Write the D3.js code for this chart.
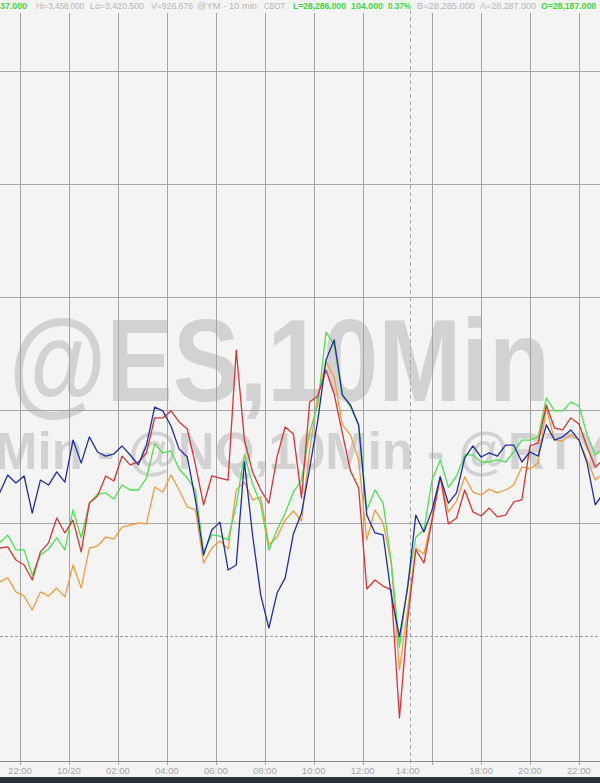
<!DOCTYPE html>
<html>
<head>
<meta charset="utf-8">
<script src="https://cdn.jsdelivr.net/npm/d3@7"></script>
<style>
  html, body { margin: 0; padding: 0; background: #f4f4f4; overflow: hidden; }
  text { font-family: "Liberation Sans", Arial, sans-serif; }
</style>
</head>
<body>
<div id="chart"></div>
<script>
var width = 600, height = 783;

// % change vs prior close, one value every 2nd 10-min bar
var esVals = [0.633,0.712,0.677,0.708,0.544,0.690,0.668,0.726,0.681,0.867,
  0.765,0.881,0.814,0.796,0.805,0.841,0.801,0.757,0.845,1.013,
  0.996,0.929,0.827,0.792,0.602,0.358,0.469,0.504,0.292,0.314,
  0.770,0.447,0.181,0.035,0.190,0.257,0.451,0.544,0.743,0.956,
  1.221,1.310,1.066,1.022,0.934,0.535,0.456,0.447,0.181,-0.004,
  0.212,0.535,0.460,0.558,0.704,0.588,0.633,0.788,0.841,0.792,
  0.810,0.796,0.845,0.845,0.770,0.814,0.796,0.934,0.867,0.881,
  0.912,0.867,0.765,0.580,0.633];

var nqVals = [0.389,0.394,0.336,0.314,0.248,0.372,0.412,0.522,0.456,0.513,
  0.372,0.588,0.619,0.708,0.686,0.796,0.757,0.770,0.810,0.965,
  0.965,0.996,0.947,0.916,0.757,0.580,0.708,0.699,0.690,1.265,
  0.867,0.726,0.646,0.588,0.792,0.925,0.894,0.611,1.035,1.062,
  1.177,1.071,0.898,0.730,0.655,0.208,0.248,0.221,0.204,-0.363,
  0.071,0.381,0.323,0.513,0.704,0.496,0.522,0.646,0.549,0.531,
  0.566,0.527,0.535,0.593,0.602,0.841,0.854,1.022,0.920,0.912,
  0.965,0.938,0.836,0.748,0.779];

var ymVals = [0.412,0.447,0.381,0.381,0.270,0.358,0.385,0.434,0.381,0.558,
  0.434,0.588,0.628,0.633,0.606,0.668,0.646,0.646,0.699,0.850,
  0.810,0.819,0.739,0.699,0.646,0.372,0.447,0.442,0.425,0.580,
  0.801,0.673,0.584,0.381,0.469,0.544,0.637,0.690,0.903,1.022,
  1.345,1.288,1.071,1.013,0.934,0.558,0.646,0.588,0.327,-0.049,
  0.226,0.438,0.469,0.690,0.779,0.659,0.708,0.801,0.801,0.770,
  0.770,0.779,0.770,0.814,0.867,0.867,0.881,1.053,0.996,0.996,
  1.035,1.018,0.889,0.801,0.832];

var rtyVals = [0.239,0.257,0.195,0.177,0.115,0.195,0.177,0.212,0.173,0.314,
  0.212,0.389,0.398,0.438,0.429,0.482,0.491,0.500,0.496,0.659,
  0.637,0.712,0.646,0.571,0.558,0.323,0.389,0.420,0.385,0.646,
  0.681,0.602,0.615,0.403,0.438,0.513,0.553,0.509,0.823,1.066,
  1.212,1.146,0.934,0.889,0.779,0.425,0.558,0.500,0.323,-0.150,
  0.115,0.389,0.363,0.522,0.704,0.549,0.597,0.704,0.637,0.624,
  0.650,0.633,0.646,0.668,0.748,0.739,0.765,1.009,0.867,0.863,
  0.889,0.867,0.779,0.690,0.721];

// time axis (bar index of each tick)
var tickBars   = [5, 17, 29, 41, 53, 65, 77, 89, 100, 118, 130, 142];
var tickLabels = ["22:00","10/20","02:00","04:00","06:00","08:00","10:00","12:00","14:00","18:00","20:00","22:00"];
var gridBars   = [5, 17, 29, 41, 53, 65, 77, 89, 106, 118, 130, 142];
var sessionBar = 100.5;
var gridVals   = [0.5, 1, 1.5, 2, 2.5];
var prevClose  = 0;

// quote line at the top
var quoteText  = ["37.000","Hi=3,458.000","Lo=3,420.500","V=926,676","@YM - 10 min","CBOT",
                  "L=28,286.000","104.000","0.37%","B=28,285.000","A=28,287.000","O=28,187.000"];
var quoteUp    = [true,false,false,false,false,false,true,true,true,false,false,true];

var watermark1 = "@ES,10Min";
var watermark2 = "Min - @NQ,10Min - @RTY,10Min";

var svg = d3.select("#chart").append("svg")
  .attr("width", width)
  .attr("height", height);

svg.append("rect").attr("width", width).attr("height", height).attr("fill", "#f4f4f4");

var x = d3.scaleLinear().domain([0, 147]).range([-0.4, 599.36]);
var y = d3.scaleLinear().domain([0, 2.5]).range([636, 71]);
var plotTop = 13, axisY = 761;

// watermarks (behind everything)
svg.append("text")
  .attr("x", 9).attr("y", 401)
  .attr("font-size", 116).attr("font-weight", "bold")
  .attr("textLength", 541).attr("lengthAdjust", "spacingAndGlyphs")
  .attr("fill", "#d2d2d2")
  .text(watermark1);

svg.append("text")
  .attr("x", -5).attr("y", 469)
  .attr("font-size", 51).attr("font-weight", "bold")
  .attr("fill", "#d2d2d2")
  .text(watermark2);

// grid
svg.append("g").selectAll("line")
  .data(gridVals).enter().append("line")
  .attr("x1", 0).attr("x2", width)
  .attr("y1", function(d) { return Math.round(y(d)) + 0.5; })
  .attr("y2", function(d) { return Math.round(y(d)) + 0.5; })
  .attr("stroke", "#a4a4a4").attr("stroke-width", 1);

svg.append("g").selectAll("line")
  .data(gridBars).enter().append("line")
  .attr("x1", function(d) { return Math.round(x(d)) + 0.5; })
  .attr("x2", function(d) { return Math.round(x(d)) + 0.5; })
  .attr("y1", plotTop).attr("y2", axisY + 4)
  .attr("stroke", "#a4a4a4").attr("stroke-width", 1);

// prior close + session break
svg.append("line")
  .attr("x1", 0).attr("x2", width)
  .attr("y1", Math.round(y(prevClose)) + 0.5).attr("y2", Math.round(y(prevClose)) + 0.5)
  .attr("stroke", "#9a9a9a").attr("stroke-dasharray", "3,2");

svg.append("line")
  .attr("x1", Math.round(x(sessionBar)) + 0.5).attr("x2", Math.round(x(sessionBar)) + 0.5)
  .attr("y1", 10).attr("y2", axisY + 6)
  .attr("stroke", "#a8a8a8").attr("stroke-dasharray", "4,3");

// series
var line = d3.line()
  .x(function(d, i) { return x(i * 2); })
  .y(function(d) { return y(d); });

var series = [
  { vals: rtyVals, color: "#ee9d3e" },
  { vals: ymVals,  color: "#4fe04f" },
  { vals: nqVals,  color: "#d83434" },
  { vals: esVals,  color: "#1f2ea3" }
];

svg.append("g").selectAll("path")
  .data(series).enter().append("path")
  .attr("d", function(d) { return line(d.vals); })
  .attr("fill", "none")
  .attr("stroke", function(d) { return d.color; })
  .attr("stroke-width", 1.3)
  .attr("stroke-linejoin", "round");

// quote header
var quoteX = [0, 36, 90, 151, 197, 264, 293, 351, 388, 417, 480, 541];
var quoteW = [27, 48, 54, 42, 60, 21, 53, 32, 23, 58, 56, 55];
svg.append("rect").attr("x", 0).attr("y", 0).attr("width", width).attr("height", plotTop - 1).attr("fill", "#f4f4f4");
svg.append("g").selectAll("text")
  .data(quoteText).enter().append("text")
  .attr("x", function(d, i) { return quoteX[i]; })
  .attr("y", 9)
  .attr("font-size", 9.5)
  .attr("font-weight", function(d, i) { return quoteUp[i] ? "bold" : "normal"; })
  .attr("textLength", function(d, i) { return quoteW[i]; })
  .attr("lengthAdjust", "spacingAndGlyphs")
  .attr("fill", function(d, i) { return quoteUp[i] ? "#3fd43f" : "#b4b4b4"; })
  .text(function(d) { return d; });
svg.append("line")
  .attr("x1", Math.round(x(sessionBar)) + 0.5).attr("x2", Math.round(x(sessionBar)) + 0.5)
  .attr("y1", 10).attr("y2", plotTop)
  .attr("stroke", "#a8a8a8");

// time axis
svg.append("line")
  .attr("x1", 0).attr("x2", width)
  .attr("y1", axisY + 0.5).attr("y2", axisY + 0.5)
  .attr("stroke", "#8c8c8c");

svg.append("g").selectAll("text")
  .data(tickBars).enter().append("text")
  .attr("x", function(d) { return x(d); })
  .attr("y", 774)
  .attr("text-anchor", "middle")
  .attr("font-size", 9.5)
  .attr("fill", "#a6a6a6")
  .text(function(d, i) { return tickLabels[i]; });

svg.append("rect")
  .attr("x", 0).attr("y", 777)
  .attr("width", width).attr("height", height - 777)
  .attr("fill", "#2e343b");
</script>
</body>
</html>
